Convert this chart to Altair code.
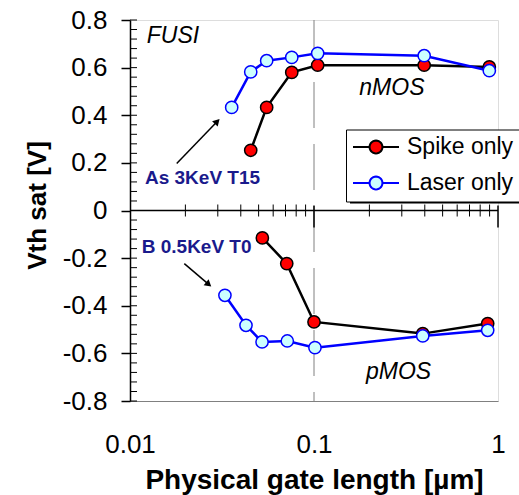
import math
import altair as alt
import pandas as pd

# ---------------- data ----------------
n_spike_x = [0.0453, 0.0553, 0.0757, 0.1047, 0.397, 0.897]
n_spike_y = [0.253, 0.433, 0.580, 0.610, 0.610, 0.603]
n_laser_x = [0.0357, 0.0453, 0.0553, 0.0757, 0.1047, 0.397, 0.897]
n_laser_y = [0.433, 0.582, 0.629, 0.643, 0.660, 0.650, 0.587]
p_spike_x = [0.0524, 0.0711, 0.100, 0.390, 0.879]
p_spike_y = [-0.115, -0.223, -0.468, -0.517, -0.475]
p_laser_x = [0.0328, 0.0427, 0.0522, 0.0716, 0.1012, 0.390, 0.879]
p_laser_y = [-0.356, -0.482, -0.552, -0.548, -0.576, -0.527, -0.503]

series_names = ["Spike only", "Laser only"]
line_colors = ["#000000", "#0000FF"]
fill_colors = ["#FF0000", "#CCFFFF"]

x_labels = [0.01, 0.1, 1]
y_major = [-0.8, -0.6, -0.4, -0.2, 0, 0.2, 0.4, 0.6, 0.8]
y_minor = [round(-0.8 + 0.04 * i, 2) for i in range(41)]
x_minor = [0.02, 0.03, 0.04, 0.05, 0.06, 0.07, 0.08, 0.09,
           0.2, 0.3, 0.4, 0.5, 0.6, 0.7, 0.8, 0.9]
x_major = [0.1, 1]

# annotations
text_labels = ["FUSI", "nMOS", "pMOS"]
text_x = [0.01233, 0.1763, 0.1917]
text_y = [0.702, 0.487, -0.709]
impl_labels = ["As 3KeV T15", "B 0.5KeV T0"]
impl_x = [0.01206, 0.01158]
impl_y = [0.113, -0.179]
arrow_x1 = [0.01794, 0.01973]
arrow_y1 = [0.197, -0.223]
arrow_x2 = [0.02978, 0.02677]
arrow_y2 = [0.374, -0.310]
arrow_angle = [44, 130]

FONT = "Liberation Sans"

# ---------------- tables ----------------
rows = []
for dev, sx, sy in [("nMOS", n_spike_x, n_spike_y), ("pMOS", p_spike_x, p_spike_y)]:
    for x, y in zip(sx, sy):
        rows.append(dict(x=x, y=y, series="Spike only", grp="Spike " + dev))
for dev, sx, sy in [("nMOS", n_laser_x, n_laser_y), ("pMOS", p_laser_x, p_laser_y)]:
    for x, y in zip(sx, sy):
        rows.append(dict(x=x, y=y, series="Laser only", grp="Laser " + dev))
df = pd.DataFrame(rows)

txt_df = pd.DataFrame(dict(label=text_labels, x=text_x, y=text_y))
impl_df = pd.DataFrame(dict(label=impl_labels, x=impl_x, y=impl_y))
arr_df = pd.DataFrame(dict(x1=arrow_x1, y1=arrow_y1, x2=arrow_x2, y2=arrow_y2, ang=arrow_angle))
vline_df = pd.DataFrame(dict(x=[0.1]))
zero_df = pd.DataFrame(dict(y=[0.0]))
xminor_df = pd.DataFrame(dict(x=x_minor))
xmajor_df = pd.DataFrame(dict(x=x_major))
yminor_df = pd.DataFrame(dict(y=y_minor))

xs = alt.Scale(type="log", domain=[0.01, 1], nice=False)
ys = alt.Scale(domain=[-0.8, 0.8], nice=False, zero=False)
stroke_scale = alt.Scale(domain=series_names, range=line_colors)
fill_scale = alt.Scale(domain=series_names, range=fill_colors)

W, H = 368, 381

# legend symbol: short line with a circle (polygon) in the middle
R = 0.28
poly = []
for k in range(28):
    a = 2 * math.pi * k / 28
    poly.append(f"{R*math.cos(a):.3f},{R*math.sin(a):.3f}")
LEG_PATH = f"M-1,0H{-R}M{R},0H1M" + "L".join(poly) + "Z"

legend = alt.Legend(title=None, orient="none", legendX=216, legendY=109.5,
                    symbolType=LEG_PATH, symbolSize=2116, symbolStrokeWidth=2,
                    clipHeight=23,
                    labelFontSize=23, labelFont=FONT, labelColor="black",
                    fillColor="white", strokeColor="black", padding=6,
                    rowPadding=12, labelOffset=7, zindex=1, cornerRadius=0)

noax = None

y_main_axis = alt.Axis(values=y_major, tickSize=9, labelPadding=14, domainColor="black",
                       domainWidth=1.5, tickColor="black", tickWidth=1.5,
                       labelFontSize=26, labelFont=FONT, labelColor="black",
                       labelExpr="datum.value == 0 ? '0' : (datum.value < 0 ? '-' : '') + format(abs(datum.value), '.1f')",
                       title="Vth sat [V]", titleFont=FONT, titleFontSize=26,
                       titleFontWeight="bold", titleColor="black", titleX=-85, titleY=185,
                       titleAngle=270, titleBaseline="alphabetic", titleAlign="center",
                       grid=False, orient="left")
x_main_axis = alt.Axis(values=x_labels, format="~g", ticks=False, tickSize=0, labelPadding=30,
                       domainColor="#808080", labelFontSize=26, labelFont=FONT,
                       labelColor="black", labelFlush=False, labelOverlap=False,
                       title="Physical gate length [µm]", titleFont=FONT, titleFontSize=28,
                       titleFontWeight="bold", titleColor="black", titleY=87,
                       titleBaseline="alphabetic", grid=False, orient="bottom")

base = alt.Chart(df)

lines = base.mark_line(strokeWidth=2.5).encode(
    x=alt.X("x:Q", scale=xs, axis=x_main_axis),
    y=alt.Y("y:Q", scale=ys, axis=y_main_axis),
    stroke=alt.Stroke("series:N", scale=stroke_scale, legend=legend),
    detail="grp:N",
    order="x:Q",
)

points = base.mark_point(filled=True, shape="circle", size=150, strokeWidth=1.5, opacity=1).encode(
    x=alt.X("x:Q", scale=xs, axis=noax),
    y=alt.Y("y:Q", scale=ys, axis=noax),
    stroke=alt.Stroke("series:N", scale=stroke_scale, legend=legend),
    fill=alt.Fill("series:N", scale=fill_scale, legend=legend),
)

# tick marks on the zero line and inner minor ticks on the y axis
xminor_ticks = alt.Chart(xminor_df).mark_tick(orient="vertical", size=12, thickness=1,
                                              color="black", opacity=1).encode(
    x=alt.X("x:Q", scale=xs, axis=noax),
    y=alt.Y("z:Q", scale=ys, axis=noax),
).transform_calculate(z="0")
xmajor_ticks = alt.Chart(xmajor_df).mark_tick(orient="vertical", size=22, thickness=1.5,
                                              color="black", opacity=1, yOffset=6).encode(
    x=alt.X("x:Q", scale=xs, axis=noax),
    y=alt.Y("z:Q", scale=ys, axis=noax),
).transform_calculate(z="0")
yminor_ticks = alt.Chart(yminor_df).mark_tick(orient="horizontal", size=7, thickness=1,
                                              color="black", opacity=1, xOffset=3.5).encode(
    x=alt.X("z:Q", scale=xs, axis=noax),
    y=alt.Y("y:Q", scale=ys, axis=noax),
).transform_calculate(z="0.01")

vline = alt.Chart(vline_df).mark_rule(color="#808080", strokeWidth=1, strokeDash=[46, 16]).encode(
    x=alt.X("x:Q", scale=xs, axis=noax)
)
zero = alt.Chart(zero_df).mark_rule(color="black", strokeWidth=1.5).encode(
    y=alt.Y("y:Q", scale=ys, axis=noax)
)

arrows = alt.Chart(arr_df).mark_rule(color="black", strokeWidth=1.5).encode(
    x=alt.X("x1:Q", scale=xs, axis=noax), x2="x2:Q",
    y=alt.Y("y1:Q", scale=ys, axis=noax), y2="y2:Q",
)
heads = alt.Chart(arr_df).mark_point(shape="triangle-up", filled=True, color="black",
                                     size=60, opacity=1).encode(
    x=alt.X("x2:Q", scale=xs, axis=noax),
    y=alt.Y("y2:Q", scale=ys, axis=noax),
    angle=alt.Angle("ang:Q", scale=None),
)

texts = alt.Chart(txt_df).mark_text(font=FONT, fontSize=23, fontStyle="italic", color="black",
                                    align="left", baseline="alphabetic").encode(
    x=alt.X("x:Q", scale=xs, axis=noax),
    y=alt.Y("y:Q", scale=ys, axis=noax),
    text="label:N",
)
impl = alt.Chart(impl_df).mark_text(font=FONT, fontSize=19, fontWeight="bold", color="#1A1A8C",
                                    align="left", baseline="alphabetic").encode(
    x=alt.X("x:Q", scale=xs, axis=noax),
    y=alt.Y("y:Q", scale=ys, axis=noax),
    text="label:N",
)

shadow = alt.Chart(zero_df).mark_rect(color="black").encode(
    x=alt.value(220), x2=alt.value(391), y=alt.value(113.5), y2=alt.value(183.5)
)

chart = alt.layer(
    vline, zero, yminor_ticks, xminor_ticks, xmajor_ticks,
    lines, points, arrows, heads, texts, impl, shadow,
).resolve_axis(x="independent", y="independent").properties(
    width=W, height=H,
    padding={"left": 130, "top": 20, "right": 21, "bottom": 94},
    autosize=alt.AutoSizeParams(type="none"),
).configure_view(stroke="#808080", strokeWidth=1).configure(background="white")

chart.save("out.html", embed_options={"renderer": "svg", "actions": False})
